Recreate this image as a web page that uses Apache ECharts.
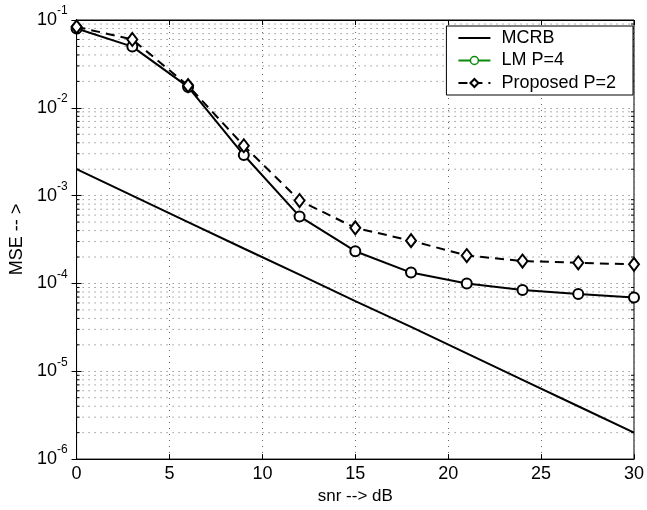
<!DOCTYPE html>
<html>
<head>
<meta charset="utf-8">
<script src="https://cdn.jsdelivr.net/npm/echarts@6/dist/echarts.min.js"></script>
<style>
  html, body { margin: 0; padding: 0; background: #fff; }
  #chart { width: 647px; height: 510px; }
</style>
</head>
<body>
<div id="chart"></div>
<script>
// snr values (dB)
const snr = [0, 3, 6, 9, 12, 15, 18, 21, 24, 27, 30]
// MSE curves
const mcrb = [2e-3, 1e-3, 5e-4, 2.5e-4, 1.26e-4, 6.3e-5, 3.2e-5, 1.6e-5, 8e-6, 4e-6, 2e-6]
const lmP4 = [0.080, 0.0498, 0.0173, 0.0029, 5.8e-4, 2.33e-4, 1.33e-4, 1.0e-4, 8.4e-5, 7.6e-5, 6.9e-5]
const propP2 = [0.0836, 0.060, 0.0179, 0.0037, 8.8e-4, 4.3e-4, 3.07e-4, 2.08e-4, 1.8e-4, 1.72e-4, 1.65e-4]
// log grid (minor lines at 2..9 of each decade)
const decades = [1e-6, 1e-5, 1e-4, 1e-3, 1e-2]
const minorMult = [2, 3, 4, 5, 6, 7, 8, 9]

const font = 'Liberation Sans, Arial, Helvetica, sans-serif'
const dotColor = '#666'
const gridDots = { type: [1, 5], color: dotColor, width: 1 }

let minorVals = []
decades.forEach(d => minorMult.forEach(m => minorVals.push([0, d * m])))

function pair(ys) {
  return snr.map((x, i) => [x, ys[i]])
}

let chart = echarts.init(document.getElementById('chart'))
chart.setOption({
  animation: false,
  grid: {
    left: 72,
    right: 12,
    top: 20,
    bottom: 47,
    show: true,
    borderColor: '#000',
    borderWidth: 1
  },
  legend: {
    orient: 'vertical',
    right: 14,
    top: 26,
    backgroundColor: '#fff',
    borderColor: '#000',
    borderWidth: 1,
    padding: [3, 17, 3, 11],
    itemWidth: 32,
    itemHeight: 10,
    itemGap: 4.5,
    textStyle: { fontFamily: font, fontSize: 18, lineHeight: 18, color: '#000', padding: [0, 0, 0, 6] },
    data: [
      { name: 'MCRB', itemStyle: { opacity: 0 } },
      {
        name: 'LM P=4',
        itemStyle: { color: '#fff', borderColor: '#0a8a0a', borderWidth: 1.5 },
        lineStyle: { color: '#0a8a0a' }
      },
      { name: 'Proposed P=2' }
    ]
  },
  xAxis: [
    {
      type: 'value',
      min: 0,
      max: 30,
      interval: 5,
      name: 'snr --> dB',
      nameLocation: 'middle',
      nameGap: 26,
      nameTextStyle: { fontFamily: font, fontSize: 17, color: '#000' },
      axisLine: { lineStyle: { color: '#000', width: 1 } },
      axisTick: { inside: true, length: 5, lineStyle: { color: '#000' } },
      axisLabel: { fontFamily: font, fontSize: 18, color: '#000', margin: 6 },
      splitLine: { show: true, lineStyle: gridDots }
    },
    {
      type: 'value',
      position: 'top',
      min: 0,
      max: 30,
      interval: 5,
      axisLine: { lineStyle: { color: '#000' } },
      axisTick: { inside: true, length: 5, lineStyle: { color: '#000' } },
      axisLabel: { show: false },
      splitLine: { show: false }
    }
  ],
  yAxis: [
    {
      type: 'log',
      logBase: 10,
      min: 1e-6,
      max: 1e-1,
      name: 'MSE -- >',
      nameLocation: 'middle',
      nameRotate: 90,
      nameGap: 38,
      nameTextStyle: { fontFamily: font, fontSize: 18, color: '#000' },
      axisLine: { lineStyle: { color: '#000', width: 1 } },
      axisTick: { inside: true, length: 5, lineStyle: { color: '#000' } },
      axisLabel: {
        margin: 9,
        formatter: function (v) {
          let e = Math.round(Math.log10(v))
          return '{b|10}{s|' + e + '}'
        },
        rich: {
          b: { fontFamily: font, fontSize: 18, color: '#000', lineHeight: 18, verticalAlign: 'bottom' },
          s: { fontFamily: font, fontSize: 12, color: '#000', lineHeight: 12, padding: [0, 0, 12, 0], verticalAlign: 'bottom' }
        }
      },
      splitLine: { show: true, lineStyle: gridDots }
    },
    {
      type: 'log',
      logBase: 10,
      min: 1e-6,
      max: 1e-1,
      position: 'right',
      axisLine: { show: true, lineStyle: { color: '#000' } },
      axisTick: { show: true, inside: true, length: 5, lineStyle: { color: '#000' } },
      axisLabel: { show: false },
      splitLine: { show: false }
    }
  ],
  series: [
    {
      // minor log grid lines with inner ticks on both sides
      name: 'minor',
      type: 'custom',
      silent: true,
      z: 1,
      data: minorVals,
      renderItem: function (params, api) {
        let v = api.value(1)
        let p0 = api.coord([0, v])
        let p1 = api.coord([30, v])
        return {
          type: 'group',
          children: [
            {
              type: 'line',
              shape: { x1: p0[0], y1: p0[1], x2: p1[0], y2: p1[1] },
              style: { stroke: dotColor, lineWidth: 1, lineDash: [1, 5] }
            },
            {
              type: 'line',
              shape: { x1: p0[0], y1: p0[1], x2: p0[0] + 3, y2: p0[1] },
              style: { stroke: '#000', lineWidth: 1 }
            },
            {
              type: 'line',
              shape: { x1: p1[0] - 3, y1: p1[1], x2: p1[0], y2: p1[1] },
              style: { stroke: '#000', lineWidth: 1 }
            }
          ]
        }
      }
    },
    {
      name: 'MCRB',
      type: 'line',
      data: pair(mcrb),
      showSymbol: false,
      symbol: 'none',
      lineStyle: { color: '#000', width: 2 },
      itemStyle: { color: '#000' }
    },
    {
      name: 'LM P=4',
      type: 'line',
      data: pair(lmP4),
      symbol: 'circle',
      symbolSize: 10,
      lineStyle: { color: '#000', width: 2 },
      itemStyle: { color: '#fff', borderColor: '#000', borderWidth: 2 }
    },
    {
      name: 'Proposed P=2',
      type: 'line',
      data: pair(propP2),
      symbol: 'diamond',
      symbolSize: [10, 13],
      lineStyle: { color: '#000', width: 2, type: [9, 6] },
      itemStyle: { color: '#fff', borderColor: '#000', borderWidth: 2 }
    }
  ]
})
</script>
</body>
</html>
